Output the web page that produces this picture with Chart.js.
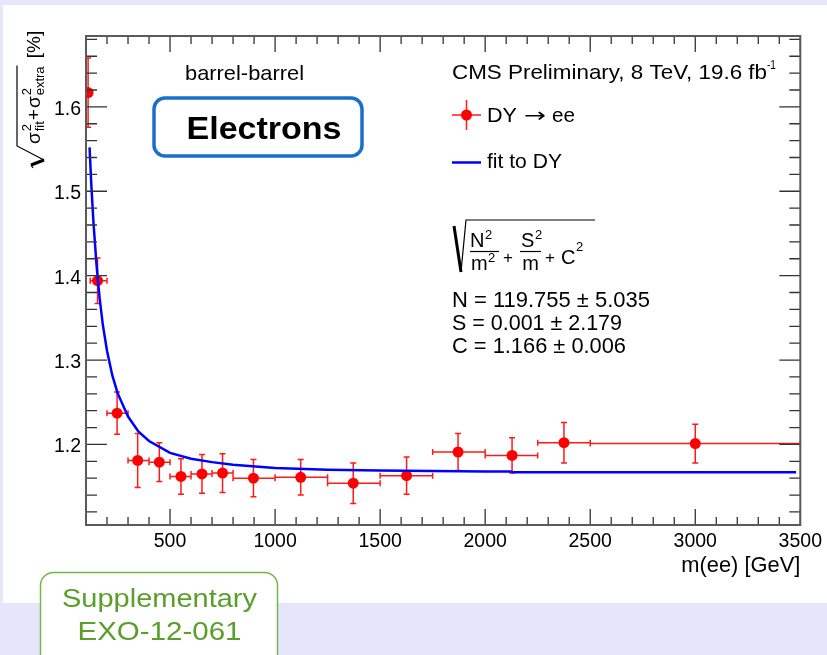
<!DOCTYPE html>
<html>
<head>
<meta charset="utf-8">
<title>Electron mass resolution, barrel-barrel</title>
<script src="https://cdn.jsdelivr.net/npm/chart.js@4.4.1/dist/chart.umd.min.js"></script>
<style>
  html, body { margin: 0; padding: 0; }
  body { width: 827px; height: 655px; background: #e6e6fa; position: relative; overflow: hidden; }
  #panel { position: absolute; left: 3px; top: 5px; width: 824px; height: 598px; background: #fff; }
  #resolution { position: absolute; left: 0; top: 0; }
</style>
</head>
<body>
<div id="panel"></div>
<canvas id="resolution" width="827" height="655"></canvas>
<script>
// DY -> ee points, mass bins in GeV
const massCenter = [110, 155, 248, 346, 449, 552, 652, 750, 897, 1122, 1372, 1626, 1871, 2128, 2375, 3000]
const massLow = [100, 120, 200, 300, 400, 500, 600, 700, 800, 1000, 1250, 1500, 1750, 2000, 2250, 2500]
const massHigh = [120, 200, 300, 400, 500, 600, 700, 800, 1000, 1250, 1500, 1750, 2000, 2250, 2500, 3500]
const resolution = [1.617, 1.394, 1.237, 1.181, 1.179, 1.162, 1.165, 1.166, 1.160, 1.161, 1.154, 1.163, 1.191, 1.187, 1.202, 1.201]
const resolutionError = [0.041, 0.027, 0.025, 0.032, 0.023, 0.021, 0.023, 0.023, 0.022, 0.021, 0.024, 0.022, 0.022, 0.021, 0.024, 0.023]

// fit curve
const fitMass = [117, 125, 135, 150, 165, 180, 200, 225, 250, 300, 350, 400, 500, 600, 700, 800, 1000, 1250, 1500, 2000, 2120, 2130, 2500, 3480]
const fitResolution = [1.552, 1.509, 1.465, 1.413, 1.373, 1.342, 1.311, 1.282, 1.261, 1.233, 1.215, 1.204, 1.190, 1.183, 1.179, 1.176, 1.172, 1.170, 1.169, 1.168, 1.168, 1.167, 1.167, 1.167]

const xTickValues = [500, 1000, 1500, 2000, 2500, 3000, 3500]
const yTickValues = [1.2, 1.3, 1.4, 1.5, 1.6]

const FONT = '"Liberation Sans", Arial, Helvetica, sans-serif'

function drawText(ctx, text, x, y, size, width, opts = {}) {
  ctx.save()
  ctx.font = `${opts.bold ? 'bold ' : ''}${size}px ${opts.family || FONT}`
  ctx.fillStyle = opts.color || '#000'
  ctx.textBaseline = 'alphabetic'
  ctx.textAlign = 'left'
  const natural = ctx.measureText(text).width
  const sx = width ? width / natural : 1
  const w = natural * sx
  let left = x
  if (opts.align === 'right') left = x - w
  if (opts.align === 'center') left = x - w / 2
  ctx.translate(left, y)
  ctx.scale(sx, 1)
  ctx.fillText(text, 0, 0)
  ctx.restore()
  return w
}

function roundedBox(ctx, x, y, w, h, r) {
  ctx.beginPath()
  ctx.moveTo(x + r, y)
  ctx.lineTo(x + w - r, y)
  ctx.arcTo(x + w, y, x + w, y + r, r)
  ctx.lineTo(x + w, y + h - r)
  ctx.arcTo(x + w, y + h, x + w - r, y + h, r)
  ctx.lineTo(x + r, y + h)
  ctx.arcTo(x, y + h, x, y + h - r, r)
  ctx.lineTo(x, y + r)
  ctx.arcTo(x, y, x + r, y, r)
  ctx.closePath()
}

const errorBars = {
  id: 'errorBars',
  beforeDatasetsDraw(chart) {
    const { ctx, scales: { x, y } } = chart
    ctx.save()
    ctx.strokeStyle = '#ff1a1a'
    ctx.lineWidth = 1.5
    ctx.beginPath()
    massCenter.forEach((m, i) => {
      const px = x.getPixelForValue(m)
      const py = y.getPixelForValue(resolution[i])
      const xl = x.getPixelForValue(Math.max(massLow[i], x.min))
      const xr = x.getPixelForValue(massHigh[i])
      const yt = y.getPixelForValue(resolution[i] + resolutionError[i])
      const yb = y.getPixelForValue(resolution[i] - resolutionError[i])
      ctx.moveTo(xl, py); ctx.lineTo(xr, py)
      ctx.moveTo(xl, py - 3); ctx.lineTo(xl, py + 3)
      ctx.moveTo(xr, py - 3); ctx.lineTo(xr, py + 3)
      ctx.moveTo(px, yt); ctx.lineTo(px, yb)
      ctx.moveTo(px - 3, yt); ctx.lineTo(px + 3, yt)
      ctx.moveTo(px - 3, yb); ctx.lineTo(px + 3, yb)
    })
    ctx.stroke()
    ctx.restore()
  }
}

// ROOT-like frame with inner ticks on all four sides
const frame = {
  id: 'frame',
  afterDatasetsDraw(chart) {
    const { ctx, chartArea: a, scales: { x, y } } = chart
    ctx.save()
    ctx.strokeStyle = '#333'
    ctx.lineWidth = 1.3
    ctx.beginPath()
    for (let v = 200; v <= 3500; v += 100) {
      const px = x.getPixelForValue(v)
      const len = v % 500 === 0 ? 16 : 8
      ctx.moveTo(px, a.bottom); ctx.lineTo(px, a.bottom - len)
      ctx.moveTo(px, a.top); ctx.lineTo(px, a.top + len)
    }
    for (let k = 56; k <= 84; k++) {
      const py = y.getPixelForValue(k / 50)
      const len = k % 5 === 0 ? 21 : 11
      ctx.moveTo(a.left, py); ctx.lineTo(a.left + len, py)
      ctx.moveTo(a.right, py); ctx.lineTo(a.right - len, py)
    }
    ctx.stroke()
    ctx.strokeStyle = '#5a5a5a'
    ctx.lineWidth = 2
    ctx.strokeRect(a.left, a.top, a.right - a.left, a.bottom - a.top)
    ctx.restore()
  }
}

function drawYTitle(ctx) {
  ctx.save()
  ctx.translate(40, 168)
  ctx.rotate(-Math.PI / 2)
  ctx.fillStyle = '#000'
  ctx.strokeStyle = '#000'
  const big = `19px ${FONT}`
  const small = `13px ${FONT}`
  let cx = 24
  // sigma_fit^2
  ctx.font = big
  ctx.fillText('σ', cx, 0)
  cx += ctx.measureText('σ').width + 1
  ctx.font = small
  ctx.fillText('2', cx, -9)
  ctx.fillText('fit', cx, 4)
  cx += Math.max(ctx.measureText('2').width, ctx.measureText('fit').width) + 1
  ctx.font = big
  ctx.fillText('+', cx, 0)
  cx += ctx.measureText('+').width + 1
  ctx.fillText('σ', cx, 0)
  cx += ctx.measureText('σ').width + 1
  ctx.font = small
  ctx.fillText('2', cx, -9)
  ctx.fillText('extra', cx, 4)
  cx += Math.max(ctx.measureText('2').width, ctx.measureText('extra').width) + 1
  const overEnd = cx
  ctx.font = big
  ctx.fillText(' [%]', cx + 2, 0)
  // radical sign
  ctx.lineWidth = 1.2
  ctx.beginPath()
  ctx.moveTo(0, -7); ctx.lineTo(3, -9)
  ctx.stroke()
  ctx.lineWidth = 3
  ctx.beginPath()
  ctx.moveTo(3, -9); ctx.lineTo(8, 4)
  ctx.stroke()
  ctx.lineWidth = 1.2
  ctx.beginPath()
  ctx.moveTo(8, 4); ctx.lineTo(22, -23); ctx.lineTo(overEnd, -23)
  ctx.stroke()
  ctx.restore()
}

function drawFormula(ctx) {
  ctx.save()
  ctx.strokeStyle = '#000'
  ctx.lineWidth = 3
  ctx.beginPath(); ctx.moveTo(454, 226); ctx.lineTo(461, 272); ctx.stroke()
  ctx.lineWidth = 1.2
  ctx.beginPath(); ctx.moveTo(461, 272); ctx.lineTo(466, 220); ctx.lineTo(595, 220); ctx.stroke()
  // N^2 / m^2
  drawText(ctx, 'N', 470, 247, 20)
  drawText(ctx, '2', 485, 239, 13)
  ctx.beginPath(); ctx.moveTo(470, 251.5); ctx.lineTo(499, 251.5); ctx.stroke()
  drawText(ctx, 'm', 471, 270, 20)
  drawText(ctx, '2', 488, 262, 13)
  drawText(ctx, '+', 503, 263, 17)
  // S^2 / m
  drawText(ctx, 'S', 521, 247, 20)
  drawText(ctx, '2', 535, 239, 13)
  ctx.beginPath(); ctx.moveTo(520, 251.5); ctx.lineTo(541, 251.5); ctx.stroke()
  drawText(ctx, 'm', 530.5, 270, 20, 0, { align: 'center' })
  drawText(ctx, '+', 545, 263, 17)
  drawText(ctx, 'C', 561, 264, 20)
  drawText(ctx, '2', 576, 251, 13)
  ctx.restore()
}

const annotations = {
  id: 'annotations',
  afterDraw(chart) {
    const { ctx, chartArea: a } = chart
    drawText(ctx, 'barrel-barrel', 185, 80, 21, 119)
    const w = drawText(ctx, 'CMS Preliminary, 8 TeV, 19.6 fb', 452, 78.5, 21, 315)
    drawText(ctx, '-1', 452 + w, 69, 13, 9)

    // legend
    ctx.save()
    ctx.strokeStyle = '#ff1a1a'
    ctx.lineWidth = 1.5
    ctx.beginPath()
    ctx.moveTo(452, 115); ctx.lineTo(481, 115)
    ctx.moveTo(466.5, 100); ctx.lineTo(466.5, 130)
    ctx.stroke()
    ctx.fillStyle = '#ff0000'
    ctx.beginPath(); ctx.arc(466.5, 115, 5.5, 0, Math.PI * 2); ctx.fill()
    ctx.strokeStyle = '#0000ff'
    ctx.lineWidth = 2.5
    ctx.beginPath(); ctx.moveTo(452, 162.5); ctx.lineTo(481, 162.5); ctx.stroke()
    ctx.restore()
    drawText(ctx, 'DY', 487, 122, 21, 30)
    drawText(ctx, '→', 524, 122, 20, 22, { family: '"DejaVu Sans", sans-serif' })
    drawText(ctx, 'ee', 552, 122, 21, 23)
    drawText(ctx, 'fit to DY', 487, 168, 21, 75)

    drawFormula(ctx)
    drawText(ctx, 'N = 119.755 ± 5.035', 452, 307, 21.5, 198)
    drawText(ctx, 'S = 0.001 ± 2.179', 452, 330, 21.5, 170)
    drawText(ctx, 'C = 1.166 ± 0.006', 452, 353, 21.5, 174)

    // "Electrons" box
    ctx.save()
    ctx.strokeStyle = '#1b6fcc'
    ctx.lineWidth = 3.5
    roundedBox(ctx, 154, 98, 208, 58, 11)
    ctx.fillStyle = '#fff'
    ctx.fill()
    ctx.stroke()
    ctx.restore()
    drawText(ctx, 'Electrons', 186.5, 138.5, 31, 155, { bold: true })

    // axis titles
    drawText(ctx, 'm(ee) [GeV]', a.right, 572, 21.5, 119, { align: 'right' })
    drawYTitle(ctx)

    // supplementary tag
    ctx.save()
    roundedBox(ctx, 40.5, 572.5, 237, 100, 13)
    ctx.fillStyle = '#fff'
    ctx.fill()
    ctx.strokeStyle = '#74b749'
    ctx.lineWidth = 1.5
    ctx.stroke()
    ctx.restore()
    drawText(ctx, 'Supplementary', 159.5, 607, 25, 195, { align: 'center', color: '#5a9f2a' })
    drawText(ctx, 'EXO-12-061', 159.5, 640, 25, 164, { align: 'center', color: '#5a9f2a' })
  }
}

const canvas = document.getElementById('resolution')
const ctx = canvas.getContext('2d')

const myChart = new Chart(ctx, {
  type: 'scatter',
  data: {
    datasets: [{
      label: 'fit to DY',
      data: fitMass.map((m, i) => ({ x: m, y: fitResolution[i] })),
      showLine: true,
      borderColor: '#0000ff',
      borderWidth: 2.5,
      pointRadius: 0,
      tension: 0,
      fill: false,
      order: 0
    }, {
      label: 'DY → ee',
      data: massCenter.map((m, i) => ({ x: m, y: resolution[i] })),
      showLine: false,
      pointRadius: 5.5,
      pointBorderWidth: 0,
      backgroundColor: '#ff0000',
      borderColor: '#ff0000',
      order: 1
    }]
  },
  options: {
    responsive: false,
    animation: false,
    devicePixelRatio: 1,
    layout: { padding: { left: 0, right: 25, top: 36, bottom: 0 } },
    plugins: {
      legend: { display: false },
      tooltip: { enabled: false }
    },
    scales: {
      x: {
        type: 'linear',
        min: 100,
        max: 3500,
        afterBuildTicks: (scale) => { scale.ticks = xTickValues.map(v => ({ value: v })) },
        afterFit: (scale) => { scale.height = 130 },
        grid: { display: false, drawTicks: false },
        border: { display: false },
        ticks: {
          color: '#000',
          padding: 5,
          maxRotation: 0,
          autoSkip: false,
          callback: (v) => String(v),
          font: { family: FONT, size: 19.5 }
        }
      },
      y: {
        type: 'linear',
        min: 1.1045,
        max: 1.684,
        afterBuildTicks: (scale) => { scale.ticks = yTickValues.map(v => ({ value: v })) },
        afterFit: (scale) => { scale.width = 86 },
        grid: { display: false, drawTicks: false },
        border: { display: false },
        ticks: {
          color: '#000',
          padding: 5,
          labelOffset: 2.5,
          autoSkip: false,
          callback: (v) => v.toFixed(1),
          font: { family: FONT, size: 19.5 }
        }
      }
    }
  },
  plugins: [errorBars, frame, annotations]
})
</script>
</body>
</html>
